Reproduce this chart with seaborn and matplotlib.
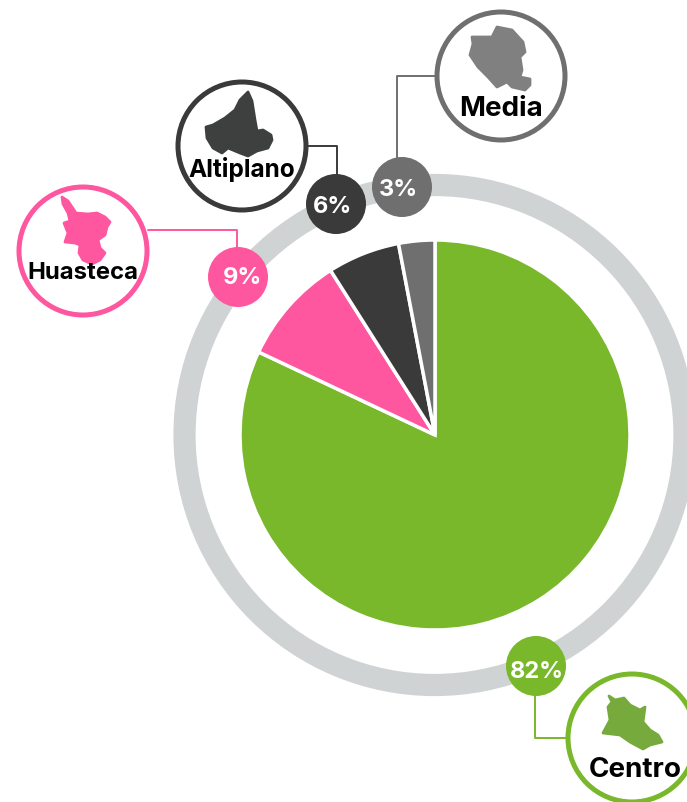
import numpy as np
import seaborn as sns
import matplotlib.pyplot as plt
from matplotlib.patches import Circle, Polygon

sns.set_theme(style='white')
plt.rcParams['font.family'] = ['Inter', 'DejaVu Sans']

# Values
regions = ['Centro', 'Huasteca', 'Altiplano', 'Media']
shares = [82, 9, 6, 3]
colors = ['#78b82a', '#ff579f', '#3a3a3a', '#6f6f6f']
map_colors = ['#76aa3c', '#ff579f', '#3e4040', '#808080']

# Layout, in pixels of the picture
badge_xy = [(536, 666), (238, 277), (336, 204), (402, 187)]
badge_text_xy = [(537, 672), (242, 278), (332, 207), (398, 190)]
medal_xy = [(632, 738), (83, 251), (242, 146), (501, 76)]
leaders = [[(535, 690), (535, 738), (567, 738)],
           [(148, 230), (237, 230), (237, 250)],
           [(308, 146), (337, 146), (337, 176)],
           [(436, 76), (397, 76), (397, 158)]]
name_xy = [(635, 770), (83, 273), (242, 170), (501, 109)]
name_size = [20, 17.2, 17.6, 20]

# Rough outlines of each region
outlines = [
    [(609, 696), (615, 700), (624, 698), (630, 705), (640, 710), (645, 707), (643, 722), (650, 730),
     (658, 735), (662, 742), (650, 745), (643, 749), (630, 742), (620, 735), (603, 733), (610, 720),
     (608, 707), (612, 702)],
    [(62, 197), (68, 201), (72, 207), (76, 213), (88, 214), (97, 213), (105, 217), (110, 222),
     (107, 227), (105, 235), (98, 240), (100, 248), (105, 253), (100, 260), (92, 264), (83, 260),
     (79, 253), (80, 245), (75, 243), (65, 242), (68, 233), (64, 223), (70, 221), (68, 213), (63, 204)],
    [(248, 92), (252, 101), (255, 120), (257, 131), (263, 130), (271, 135), (272, 140), (268, 148),
     (257, 151), (248, 156), (240, 153), (228, 148), (222, 153), (213, 148), (207, 138), (206, 127),
     (213, 125), (225, 118), (235, 110), (240, 100)],
    [(497, 27), (512, 30), (523, 42), (525, 52), (520, 57), (522, 70), (520, 77), (530, 79),
     (530, 85), (525, 90), (512, 87), (507, 82), (497, 87), (488, 77), (478, 67), (470, 55),
     (473, 44), (472, 37), (492, 37)],
]

fig, ax = plt.subplots(figsize=(6.87, 8.02), dpi=100)
fig.subplots_adjust(left=0, right=1, bottom=0, top=1)

# Grey ring around the pie
ax.add_patch(Circle((434.5, 435), 250, fill=False, ec='#d0d3d4', lw=16, zorder=1))

# y axis runs downwards here, so counterclock draws clockwise on the picture
ax.pie(shares, colors=colors, startangle=270, counterclock=True,
       center=(435, 435), radius=195, frame=True,
       wedgeprops={'edgecolor': 'white', 'linewidth': 2.5, 'zorder': 2})

for i, region in enumerate(regions):
    xs, ys = zip(*leaders[i])
    ax.plot(xs, ys, color=colors[i], lw=1.4, zorder=3)

    ax.add_patch(Circle(badge_xy[i], 30, fc=colors[i], ec='none', zorder=4))
    ax.text(badge_text_xy[i][0], badge_text_xy[i][1], f'{shares[i]}%', color='white', fontsize=17,
            fontweight='bold', ha='center', va='center', zorder=5)

    ax.add_patch(Circle(medal_xy[i], 64, fc='white', ec=colors[i], lw=3.6, zorder=4))
    # thick round stroke softens the corners of the outline
    ax.add_patch(Polygon(np.array(outlines[i]), fc=map_colors[i], ec=map_colors[i], lw=2,
                         joinstyle='round', zorder=5))
    ax.text(name_xy[i][0], name_xy[i][1], region, color='black', fontsize=name_size[i],
            fontweight='bold', ha='center', va='center', zorder=6)

ax.set_xlim(0, 687)
ax.set_ylim(802, 0)
ax.set_aspect('equal')
ax.axis('off')

plt.savefig('out.png', dpi=100)
